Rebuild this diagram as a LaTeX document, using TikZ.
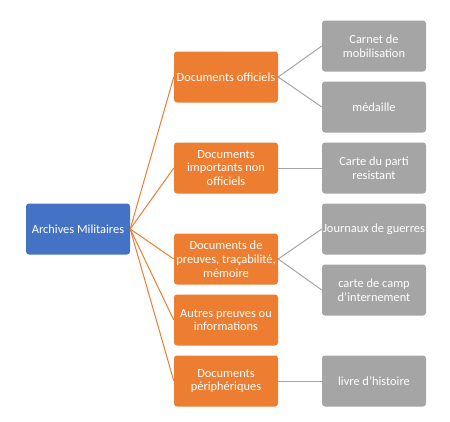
\documentclass[tikz,border=0pt]{standalone}
\usepackage{fontspec}
\setmainfont{Carlito}
\definecolor{rootblue}{HTML}{4472C4}
\definecolor{catorange}{HTML}{ED7D31}
\definecolor{itemgray}{HTML}{A5A5A5}
\tikzset{
  box/.style = {rounded corners=3pt, minimum width=104pt, minimum height=51pt,
    inner sep=0pt, align=center, text=white,
    font=\fontsize{12.4}{13.8}\selectfont},
  rootbox/.style = {box, fill=rootblue},
  catbox/.style = {box, fill=catorange},
  itembox/.style = {box, fill=itemgray},
  orangeline/.style = {catorange, line width=1pt},
  grayline/.style = {itemgray, line width=1pt}
}
\newcommand{\cat}[3]{\node[catbox] (#1) at (226,#2) {#3}}
\newcommand{\doc}[3]{\node[itembox] (#1) at (374,#2) {#3}}
\newcommand{\branch}[2]{\draw[orangeline] (#1.east) -- (#2.west)}
\newcommand{\leaf}[2]{\draw[grayline] (#1.east) -- (#2.west)}

\begin{document}
\begin{tikzpicture}[x=1pt, y=-1pt]
\useasboundingbox (0,0) rectangle (450,421);
%The root
	\node[rootbox] (archives) at (78,229) {Archives Militaires};
%The categories
	\cat{officiels}{77}{Documents officiels};
	\cat{nonofficiels}{168}{Documents\\importants non\\officiels};
	\cat{preuves}{259}{Documents de\\preuves, traçabilité,\\mémoire};
	\cat{autres}{320}{Autres preuves ou\\informations};
	\cat{peripheriques}{381}{Documents\\périphériques};
%The documents
	\doc{carnet}{46}{Carnet de\\mobilisation};
	\doc{medaille}{107}{médaille};
	\doc{parti}{168}{Carte du parti\\resistant};
	\doc{journaux}{229}{Journaux de guerres};
	\doc{camp}{290}{carte de camp\\d'internement};
	\doc{livre}{381}{livre d'histoire};
%Links from the root
	\branch{archives}{officiels};
	\branch{archives}{nonofficiels};
	\branch{archives}{preuves};
	\branch{archives}{autres};
	\branch{archives}{peripheriques};
%Links to the documents
	\leaf{officiels}{carnet};
	\leaf{officiels}{medaille};
	\leaf{nonofficiels}{parti};
	\leaf{preuves}{journaux};
	\leaf{preuves}{camp};
	\leaf{peripheriques}{livre};
\end{tikzpicture}
\end{document}
